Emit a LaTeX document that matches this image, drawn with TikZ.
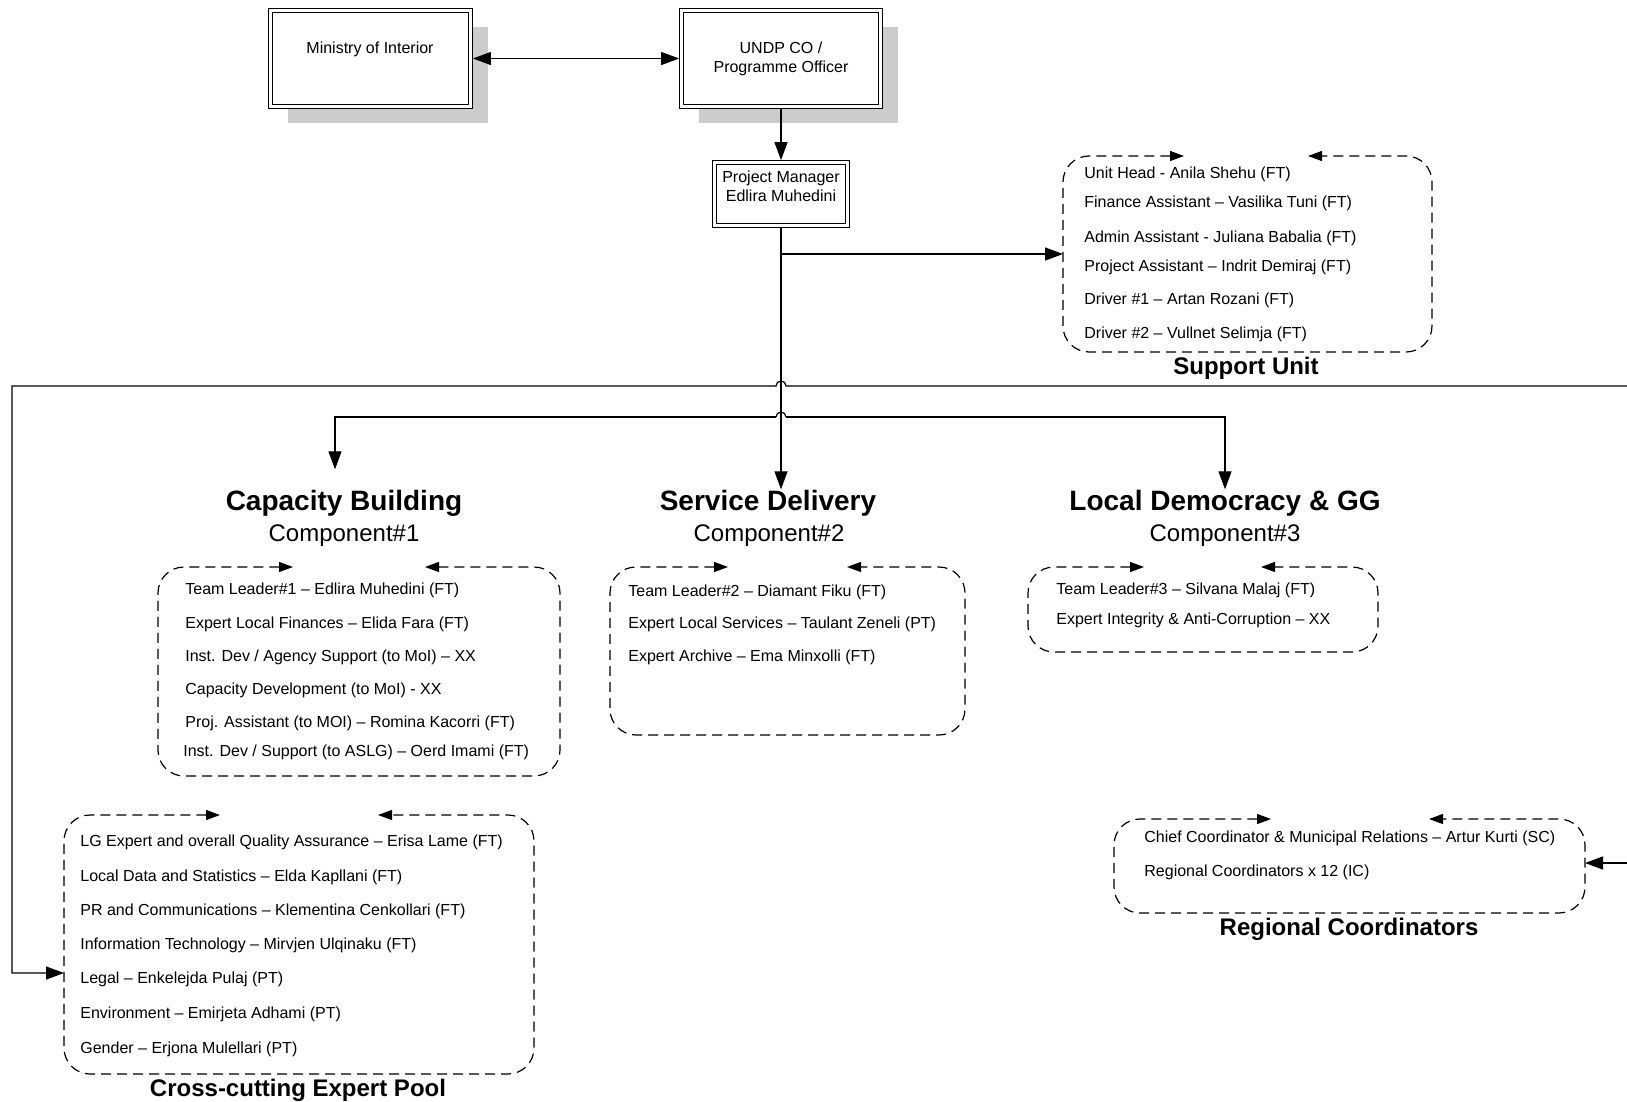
\documentclass[tikz,border=0pt]{standalone}
\usepackage{fontspec}
\setmainfont{Liberation Sans}
\usetikzlibrary{arrows.meta, shadows}

\begin{document}
\begin{tikzpicture}[x=0.5pt, y=-0.5pt]
    \tikzset{
        dbox/.style={draw, fill=white, double, double distance=1.2pt, line width=0.6pt, outer sep=1.2pt, inner sep=0},
        boxshadow/.style={drop shadow={shadow xshift=8.5pt, shadow yshift=-8.5pt, fill=black!20, opacity=1}},
        boxtext/.style={anchor=base, inner sep=0, font=\fontsize{8}{9.5}\selectfont},
        grp/.style={inner sep=0, outer sep=0},
        grpframe/.style={line width=0.6pt, dash pattern=on 5pt off 3pt, rounded corners=13pt,
            arrows={Triangle[length=7pt,width=5pt]-Triangle[length=7pt,width=5pt]}},
        entry/.style={anchor=base west, inner sep=0, font=\fontsize{8}{9.5}\selectfont},
        comptitle/.style={anchor=base, inner sep=0, font=\fontsize{14}{17}\selectfont\bfseries},
        compsub/.style={anchor=base, inner sep=0, font=\fontsize{12}{14}\selectfont},
        grplabel/.style={anchor=base, inner sep=0, font=\fontsize{12}{14}\selectfont\bfseries},
        link/.style={line width=0.6pt, -{Triangle[length=9pt,width=6.5pt]}},
        both/.style={arrows={Triangle[length=9pt,width=6.5pt]-Triangle[length=9pt,width=6.5pt]}}
    }
    \useasboundingbox (0,0) rectangle (1627,1102);

    % Top boxes
    \node[dbox, boxshadow, minimum width=100pt, minimum height=48pt] (moi) at (370.5,58.5) {};
    \node[dbox, boxshadow, minimum width=99.5pt, minimum height=48pt] (undp) at (781,58.5) {};
    \node[dbox, minimum width=66.5pt, minimum height=31.5pt] (pm) at (781,194) {};
    \node[boxtext] (moitxt) at (370,54) {Ministry of Interior};
    \node[boxtext, align=center, anchor=center] (undptxt) at (781,59) {UNDP CO /\\Programme Officer};
    \node[boxtext, align=center, anchor=center] (pmtxt) at (781,186) {Project Manager\\Edlira Muhedini};

    % Support unit
    \node[grp, minimum width=184.5pt, minimum height=98pt] (su) at (1247.5,254) {};
    \node[entry] (su1) at (1084,178) {Unit Head - Anila Shehu (FT)};
    \node[entry] (su2) at (1084,207) {Finance Assistant – Vasilika Tuni (FT)};
    \node[entry] (su3) at (1084,242) {Admin Assistant - Juliana Babalia (FT)};
    \node[entry] (su4) at (1084,271) {Project Assistant – Indrit Demiraj (FT)};
    \node[entry] (su5) at (1084,304) {Driver \#1 – Artan Rozani (FT)};
    \node[entry] (su6) at (1084,338) {Driver \#2 – Vullnet Selimja (FT)};
    \node[grplabel] (sulabel) at (1246,374) {Support Unit};

    % Components
    \node[comptitle] (cbtitle) at (344,510) {Capacity Building};
    \node[compsub] (cbsub) at (344,541) {Component\#1};
    \node[comptitle] (sdtitle) at (768,510) {Service Delivery};
    \node[compsub] (sdsub) at (769,541) {Component\#2};
    \node[comptitle] (ldtitle) at (1225,510) {Local Democracy \& GG};
    \node[compsub] (ldsub) at (1225,541) {Component\#3};

    \node[grp, minimum width=201pt, minimum height=104.5pt] (cb) at (359,671.5) {};
    \node[entry] (cb1) at (185,594) {Team Leader\#1 – Edlira Muhedini (FT)};
    \node[entry] (cb2) at (185,628) {Expert Local Finances – Elida Fara (FT)};
    \node[entry] (cb3) at (185,661) {Inst. Dev / Agency Support (to MoI) – XX};
    \node[entry] (cb4) at (185,694) {Capacity Development (to MoI) - XX};
    \node[entry] (cb5) at (185,727) {Proj. Assistant (to MOI) – Romina Kacorri (FT)};
    \node[entry] (cb6) at (183,756) {Inst. Dev / Support (to ASLG) – Oerd Imami (FT)};

    \node[grp, minimum width=177.5pt, minimum height=84pt] (sd) at (787.5,651) {};
    \node[entry] (sd1) at (628,596) {Team Leader\#2 – Diamant Fiku (FT)};
    \node[entry] (sd2) at (628,628) {Expert Local Services – Taulant Zeneli (PT)};
    \node[entry] (sd3) at (628,661) {Expert Archive – Ema Minxolli (FT)};

    \node[grp, minimum width=175pt, minimum height=42.5pt] (ld) at (1203,609.5) {};
    \node[entry] (ld1) at (1056,594) {Team Leader\#3 – Silvana Malaj (FT)};
    \node[entry] (ld2) at (1056,624) {Expert Integrity \& Anti-Corruption – XX};

    % Expert pool
    \node[grp, minimum width=235pt, minimum height=129.5pt] (ep) at (299,944.5) {};
    \node[entry] (ep1) at (80,846) {LG Expert and overall Quality Assurance – Erisa Lame (FT)};
    \node[entry] (ep2) at (80,881) {Local Data and Statistics – Elda Kapllani (FT)};
    \node[entry] (ep3) at (80,915) {PR and Communications – Klementina Cenkollari (FT)};
    \node[entry] (ep4) at (80,949) {Information Technology – Mirvjen Ulqinaku (FT)};
    \node[entry] (ep5) at (80,983) {Legal – Enkelejda Pulaj (PT)};
    \node[entry] (ep6) at (80,1018) {Environment – Emirjeta Adhami (PT)};
    \node[entry] (ep7) at (80,1053) {Gender – Erjona Mulellari (PT)};
    \node[grplabel] (eplabel) at (298,1096) {Cross-cutting Expert Pool};

    % Regional coordinators
    \node[grp, minimum width=235.5pt, minimum height=47pt] (rc) at (1349.5,866) {};
    \node[entry] (rc1) at (1144,842) {Chief Coordinator \& Municipal Relations – Artur Kurti (SC)};
    \node[entry] (rc2) at (1144,876) {Regional Coordinators x 12 (IC)};
    \node[grplabel] (rclabel) at (1349,935) {Regional Coordinators};

    % Frames
    \draw[grpframe] ([xshift=60.5pt]su.north west) -- (su.north west) -- (su.south west) -- (su.south east) -- (su.north east) -- ([xshift=-62pt]su.north east);
    \draw[grpframe] ([xshift=67.5pt]cb.north west) -- (cb.north west) -- (cb.south west) -- (cb.south east) -- (cb.north east) -- ([xshift=-67.5pt]cb.north east);
    \draw[grpframe] ([xshift=59pt]sd.north west) -- (sd.north west) -- (sd.south west) -- (sd.south east) -- (sd.north east) -- ([xshift=-59pt]sd.north east);
    \draw[grpframe] ([xshift=58pt]ld.north west) -- (ld.north west) -- (ld.south west) -- (ld.south east) -- (ld.north east) -- ([xshift=-58.5pt]ld.north east);
    \draw[grpframe] ([xshift=78pt]ep.north west) -- (ep.north west) -- (ep.south west) -- (ep.south east) -- (ep.north east) -- ([xshift=-78pt]ep.north east);
    \draw[grpframe] ([xshift=78.5pt]rc.north west) -- (rc.north west) -- (rc.south west) -- (rc.south east) -- (rc.north east) -- ([xshift=-78pt]rc.north east);

    % Edges
    \draw[link, both] (moi.east) -- (undp.west);
    \draw[link] (undp) -- (pm);
    \draw[link] (pm.south) -- (pm.south |- sdtitle.north);
    \draw[link] (pm.south |- su.west) -- (su.west);

    \coordinate (split) at (781,417);
    \draw[link] ([xshift=-2.5pt]split) -| ([xshift=-4.5pt, yshift=10pt]cbtitle.north);
    \draw[link] ([xshift=2.5pt]split) -| (ldtitle.north);
    \draw[line width=0.6pt] ([xshift=-2.5pt]split) arc[start angle=180, end angle=0, radius=2.5pt];

    \coordinate (rtop) at (1627,386);
    \coordinate (hop) at (786,386);
    \coordinate (ltop) at (12,386);
    \draw[link] (rtop) -- (hop) arc[start angle=0, end angle=180, radius=2.5pt] -- (ltop) |- ([yshift=-14.25pt]ep.west);

    \coordinate (rbot) at (1627,863);
    \draw[link] (rbot) -- (rbot -| rc.east);
\end{tikzpicture}
\end{document}
